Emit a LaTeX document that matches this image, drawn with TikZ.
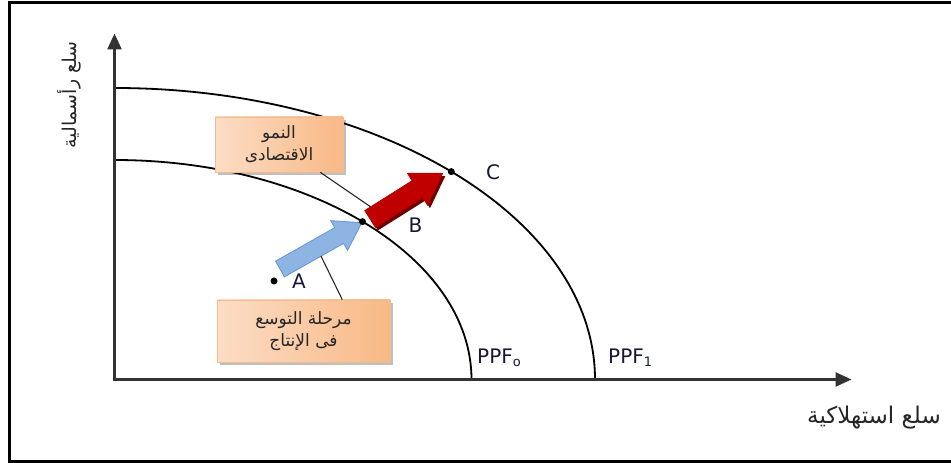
\documentclass[tikz,border=0pt]{standalone}
\usepackage{fontspec}
\setmainfont{DejaVu Sans}
\newfontfamily\arabicfont[Script=Arabic]{DejaVu Sans}
\TeXXeTstate=1
\usetikzlibrary{arrows.meta,shadows}

\definecolor{peachA}{HTML}{FCDDC6}
\definecolor{peachB}{HTML}{F8B985}
\definecolor{boxedge}{HTML}{F3BC90}
\definecolor{blueF}{HTML}{8EB4E3}
\definecolor{blueD}{HTML}{6A98D6}
\definecolor{redF}{HTML}{C00000}
\definecolor{redS}{HTML}{6E0000}
\definecolor{labelink}{HTML}{161934}
\definecolor{axisgray}{HTML}{333333}

\tikzset{
  axisline/.style={draw=axisgray, line width=2.5pt,
    arrows={Triangle[length=16pt,width=14pt]-Triangle[length=16pt,width=14pt]}},
  ppf/.style={draw=black, line width=1.8pt},
  dot/.style={circle, fill=black, minimum size=7pt, inner sep=0pt},
  ptlabel/.style={text=labelink, font=\fontsize{20}{22}\selectfont, inner sep=0pt},
  notebox/.style={draw=boxedge, line width=0.8pt, left color=peachA, right color=peachB,
    drop shadow={shadow xshift=3pt, shadow yshift=-3pt, fill=black, opacity=0.25},
    align=center, font=\arabicfont\fontsize{17}{22}\selectfont, text=black!85,
    inner sep=0pt},
  axislabel/.style={text=black!85, inner sep=0pt},
  leader/.style={draw=black!85, line width=1.1pt},
  bluearrow/.style={fill=blueF, draw=blueD, line width=0.9pt, line join=miter},
  redarrow/.style={fill=redF, draw=redF!90!black, line width=0.6pt, line join=miter},
  redshadow/.style={fill=redS, draw=none},
}

\newcommand{\ppfsub}[1]{\raisebox{-0.3ex}{\fontsize{13}{13}\selectfont #1}}

\begin{document}
\begin{tikzpicture}[x=1pt,y=1pt]
  \useasboundingbox (0,0) rectangle (951,463);

  % outer frame (open on the right)
  \draw[line width=2.5pt] (955,460.5) -- (9.5,460.5) -- (9.5,1.5) -- (955,1.5);

  % axes
  \coordinate (O) at (114.5,83.5);
  \coordinate (ytip) at (114.5,429.5);
  \coordinate (xtip) at (851.5,83.5);

  % production possibility frontiers (quarter ellipses)
  \draw[ppf] (O) ++(357,0) arc[start angle=0, end angle=90, x radius=357, y radius=219.5];
  \draw[ppf] (O) ++(480.5,0) arc[start angle=0, end angle=90, x radius=480.5, y radius=291.5];

  \draw[axisline] (ytip) -- (O) -- (xtip);

  % growth arrows
  \begin{scope}[shift={(280,194)}, rotate=29.5]
    \draw[bluearrow] (0,-9) -- (68,-9) -- (68,-17) -- (94,0) -- (68,17) -- (68,9) -- (0,9) -- cycle;
    \coordinate (blueFoot) at (42,-9);
  \end{scope}
  \begin{scope}[shift={(372.5,241)}, rotate=32.2]
    \fill[redshadow] (0,-10) -- (56,-10) -- (56,-19) -- (86,0) -- (56,19) -- (56,10) -- (0,10) -- cycle;
  \end{scope}
  \begin{scope}[shift={(370,244)}, rotate=32.2]
    \draw[redarrow] (0,-10) -- (56,-10) -- (56,-19) -- (86,0) -- (56,19) -- (56,10) -- (0,10) -- cycle;
    \coordinate (redTop) at (7,10);
  \end{scope}

  % points on the frontiers
  \node[dot] (A) at (274,182) {};
  \node[dot] (B) at (O) [shift={(46:357 and 219.5)}] {};
  \node[dot] (C) at (O) [shift={(45.5:480.5 and 291.5)}] {};

  \node[ptlabel] (Alab) at (299,182) {A};
  \node[ptlabel] (Blab) at (415.5,238) {B};
  \node[ptlabel] (Clab) at (493,291) {C};
  \node[ptlabel, anchor=west] (ppf0) at (477,105.5) {PPF\ppfsub{o}};
  \node[ptlabel, anchor=west] (ppf1) at (608,105.5) {PPF\ppfsub{1}};

  % annotation boxes
  \node[notebox, minimum width=128pt, minimum height=55pt] (note1) at (279,318.5)
    {\beginR النمو\endR\\\beginR الاقتصادى\endR};
  \node[notebox, minimum width=173pt, minimum height=62pt] (note2) at (303.5,132)
    {\beginR مرحلة التوسع\endR\\\beginR فى الإنتاج\endR};

  \draw[leader] (note1.-34) -- (redTop);
  \draw[leader] (note2.39) -- (blueFoot);

  % axis titles
  \node[axislabel, rotate=90, font=\arabicfont\fontsize{19}{22}\selectfont] (ylab) at (69,368)
    {\beginR سلع رأسمالية\endR};
  \node[axislabel, anchor=east, font=\arabicfont\fontsize{23}{26}\selectfont] (xlab) at (941,45)
    {\beginR سلع استهلاكية\endR};
\end{tikzpicture}
\end{document}
